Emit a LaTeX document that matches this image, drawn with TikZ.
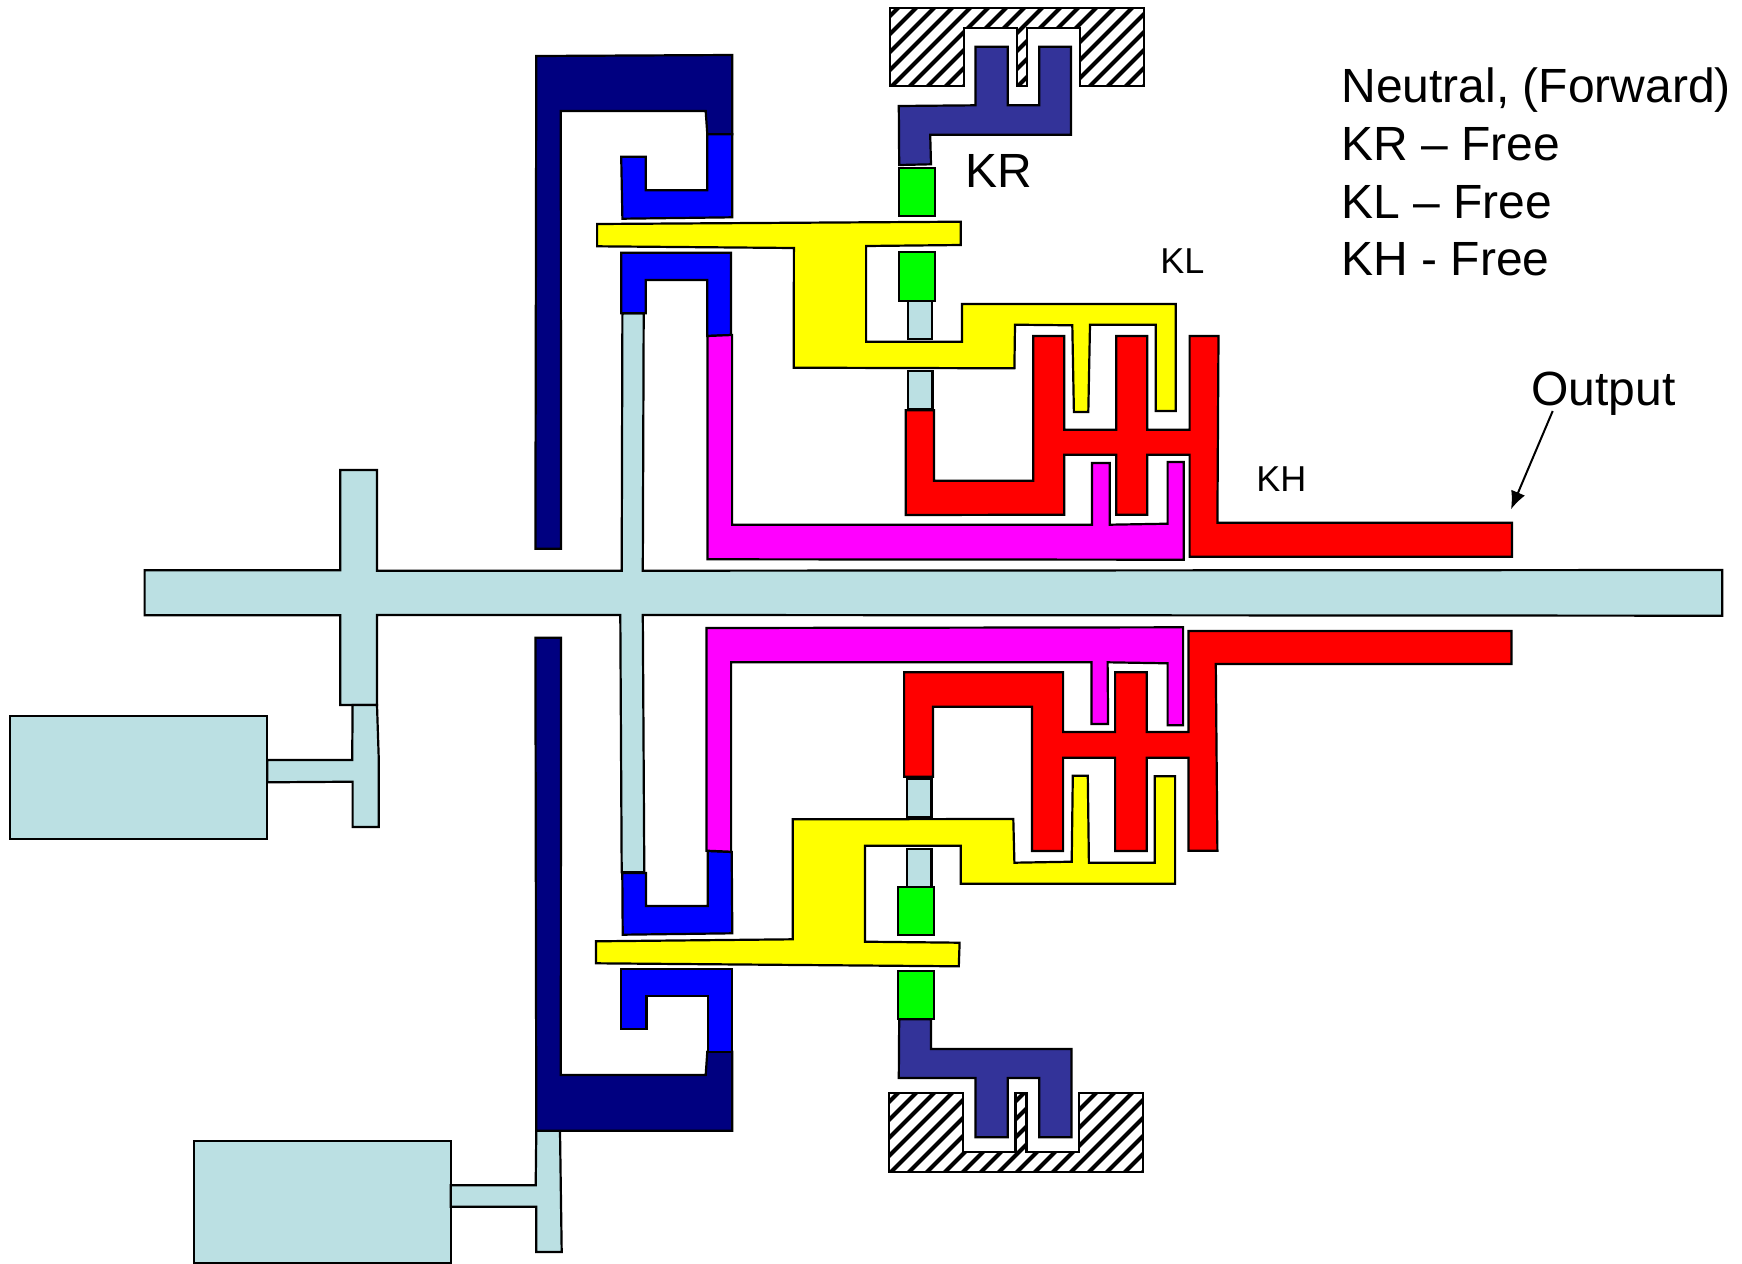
\documentclass[tikz,border=0pt]{standalone}
\usepackage{fontspec}
\setmainfont{Liberation Sans}
\usetikzlibrary{arrows.meta}
\definecolor{pale}{HTML}{BBE0E3}
\definecolor{navyc}{HTML}{000080}
\definecolor{dblue}{HTML}{333399}
\definecolor{bluec}{HTML}{0000FF}
\definecolor{magc}{HTML}{FF00FF}
\definecolor{redc}{HTML}{FF0000}
\definecolor{yelc}{HTML}{FFFF00}
\definecolor{grnc}{HTML}{00FF00}
\tikzset{
  part/.style={draw=black,line width=1.1pt,line join=miter,fill=#1},
  hatchline/.style={draw=black,line width=2pt},
  bigtext/.style={anchor=base west,inner sep=0pt,font=\fontsize{24}{29}\selectfont},
  smalltext/.style={anchor=base west,inner sep=0pt,font=\fontsize{18}{21}\selectfont},
}
\newcommand{\hatchtop}{(889.8,7.7) -- (1143.7,7.7) -- (1143.7,86.3) -- (1080,86.3) -- (1080,28) -- (1027.3,28) -- (1027.3,86.3) -- (1016.7,86.3) -- (1016.7,28) -- (964,28) -- (964,86.3) -- (889.8,86.3) -- cycle}
\newcommand{\hatchbot}{(889,1093.3) -- (963.3,1093.3) -- (963.3,1151.7) -- (1015.5,1151.7) -- (1015.5,1093.3) -- (1026.5,1093.3) -- (1026.5,1151.7) -- (1078.8,1151.7) -- (1078.8,1093.3) -- (1142.9,1093.3) -- (1142.9,1172) -- (889,1172) -- cycle}
\begin{document}
\begin{tikzpicture}[x=0.5pt,y=-0.5pt]
\path[use as bounding box,fill=white] (0,0) rectangle (1742,1264);

% pale shaft with cross arms and rod
\path[part=pale] (144.6,570.3) -- (340.2,570.3) -- (340.2,470) -- (377,470) -- (377,570.7) -- (621.7,570.7) -- (622.4,313.3) -- (643.7,313.3) -- (642.8,570.7) -- (1722.3,570) -- (1722.3,615.7) -- (642.8,615) -- (644.3,872.3) -- (621.7,872.3) -- (620.3,615) -- (377,615) -- (377,705) -- (340.2,705) -- (340.2,615.3) -- (144.6,615.3) -- cycle;
% upper actuator
\path[part=pale] (10.1,716) rectangle (267.2,839);
\path[part=pale] (352.6,705) -- (377,705) -- (378.8,760) -- (378.8,827) -- (352.6,827) -- (352.6,781.7) -- (267.2,782.3) -- (267.2,760) -- (352.2,760) -- cycle;
% lower actuator
\path[part=pale] (193.7,1141.3) rectangle (450.7,1263.3);
\path[part=pale] (450.7,1185.3) -- (535.7,1185.3) -- (536.3,1130.7) -- (560,1130.7) -- (561.7,1252) -- (536.3,1252) -- (536.3,1206.7) -- (450.7,1206.7) -- cycle;
% pale pins
\path[part=pale] (907.8,300.7) rectangle (932.2,339.3);
\path[part=pale] (907.8,370.7) rectangle (932.5,408.7);
\path[part=pale] (907.3,778.7) rectangle (931.4,816.7);
\path[part=pale] (906.8,848.7) rectangle (931.4,886.7);

% navy
\path[part=navyc] (536.3,56) -- (732.2,55) -- (732.2,134.3) -- (707.3,134.3) -- (705.7,111) -- (560.8,111) -- (561,548.7) -- (535.4,548.7) -- cycle;
\path[part=navyc] (535.4,637.7) -- (561,637.7) -- (560.8,1075) -- (705.7,1075) -- (707.3,1051.7) -- (732.2,1051.7) -- (732.2,1130.7) -- (536.3,1130.7) -- cycle;

% blue
\path[part=bluec] (621.2,156.7) -- (645.7,156.7) -- (645.7,190.3) -- (707.3,190.3) -- (707.3,134.3) -- (732.2,134.3) -- (732.2,217.3) -- (622.4,218.7) -- cycle;
\path[part=bluec] (621.2,252.7) -- (731,252.7) -- (731,335) -- (707.3,336) -- (707.3,280) -- (645.7,280) -- (645.7,313.3) -- (621.2,313.3) -- cycle;
\path[part=bluec] (622.3,873) -- (646,873) -- (646,906) -- (707.7,906) -- (707.7,851) -- (731.7,852) -- (732.3,933.3) -- (622.7,934.7) -- cycle;
\path[part=bluec] (621.2,968.7) -- (731.8,968.7) -- (731.8,1051.7) -- (707.8,1051.7) -- (707.8,996.3) -- (646.5,996.3) -- (646.5,1029.3) -- (621.2,1029.3) -- cycle;

% yellow
\path[part=yelc] (597.1,224) -- (960.8,221.7) -- (960.8,245) -- (866.1,246) -- (866.1,341.7) -- (962,341.7) -- (962,304) -- (1175.7,304) -- (1175.7,411) -- (1155.8,411) -- (1155.8,324.7) -- (1090,324.7) -- (1088.3,412) -- (1073.9,412) -- (1072.3,325.3) -- (1015,324.7) -- (1014.4,368.3) -- (793.7,367.7) -- (793.9,248) -- (597.1,246.3) -- cycle;
\path[part=yelc] (792.7,819.3) -- (1013.3,819) -- (1014.4,862.7) -- (1071.7,861.7) -- (1072.8,775.7) -- (1087.8,775.7) -- (1088.9,862.7) -- (1154.7,862.7) -- (1154.7,776.3) -- (1175.1,776.3) -- (1175.1,883.7) -- (960.8,883.7) -- (960.8,845.7) -- (865,845.7) -- (864.9,941.7) -- (959.6,942.7) -- (958.8,966.3) -- (595.9,963.3) -- (595.9,941.3) -- (792.7,939.3) -- cycle;

% magenta
\path[part=magc] (707.5,336) -- (732.1,335) -- (732.1,524.7) -- (1092,524.7) -- (1092,463) -- (1109.8,463) -- (1109.8,524.7) -- (1167.6,523.7) -- (1167.6,462) -- (1183.7,462) -- (1183.7,559.7) -- (707.5,559.3) -- cycle;
\path[part=magc] (706.4,628) -- (1183.1,627.3) -- (1183.1,725.3) -- (1167.6,725.3) -- (1167.6,663.3) -- (1107.6,662.3) -- (1108.1,724) -- (1091.5,724) -- (1091.5,662.3) -- (731.1,662.3) -- (731.1,851.7) -- (706.4,850.7) -- cycle;

% red
\path[part=redc] (905.7,410.3) -- (934,410.3) -- (934,480.7) -- (1033.2,480.7) -- (1033.2,336) -- (1064.2,336) -- (1064.2,429.7) -- (1116.2,429.7) -- (1116.2,336) -- (1147.2,336) -- (1147.2,429.7) -- (1189.6,429.7) -- (1189.6,336) -- (1218.5,336) -- (1217.4,522.7) -- (1512,522.7) -- (1512,556.7) -- (1189.6,556.7) -- (1189.6,454.7) -- (1147.2,454.7) -- (1147.2,514.7) -- (1116.2,514.7) -- (1116.2,454.7) -- (1064.2,454.7) -- (1064.2,514.7) -- (905.7,515) -- cycle;
\path[part=redc] (1188.5,631) -- (1511.5,631) -- (1511.5,664) -- (1215.8,664) -- (1217.4,850.7) -- (1188.5,850.7) -- (1188.5,757.7) -- (1146.7,757.7) -- (1146.7,851) -- (1115.1,851) -- (1115.1,757.7) -- (1063.1,757.7) -- (1063.1,851) -- (1032,851) -- (1032,706.7) -- (933,706.7) -- (933,776.7) -- (904.1,776.7) -- (904.1,672.3) -- (1063.1,672.3) -- (1063.1,732) -- (1115.1,732) -- (1115.1,672.3) -- (1146.7,672.3) -- (1146.7,732) -- (1188.5,732) -- cycle;

% dark blue
\path[part=dblue] (899.2,165) -- (931,164.3) -- (930.2,134.7) -- (1071,134.7) -- (1071,46.7) -- (1039.2,46.7) -- (1039.2,105.3) -- (1007.8,105.3) -- (1007.8,46.7) -- (975.5,46.7) -- (975.5,105.3) -- (898.8,106) -- cycle;
\path[part=dblue] (899.2,1019.3) -- (931,1019.3) -- (931,1049) -- (1071.4,1049) -- (1071.4,1137.3) -- (1039.2,1137.3) -- (1039.2,1078) -- (1007.8,1078) -- (1007.8,1137.3) -- (975.5,1137.3) -- (975.5,1078) -- (898.8,1078) -- cycle;

% green
\path[part=grnc] (898.8,167.7) rectangle (935.1,216);
\path[part=grnc] (898.8,252) rectangle (935.1,300.7);
\path[part=grnc] (898.2,886.7) rectangle (934,935);
\path[part=grnc] (898,971) rectangle (934.3,1019.3);

% hatched housings
\begin{scope}
\clip \hatchtop;
\foreach \i in {0,...,24} \draw[hatchline] ({770+18*\i},100) -- ({870+18*\i},0);
\end{scope}
\draw[line width=1.1pt] \hatchtop;
\begin{scope}
\clip \hatchbot;
\foreach \i in {0,...,24} \draw[hatchline] ({770+18*\i},1185) -- ({870+18*\i},1085);
\end{scope}
\draw[line width=1.1pt] \hatchbot;

% labels
\node[bigtext] (tneutral) at (1341,102.7) {Neutral, (Forward)};
\node[bigtext] (tkr) at (1341,160.7) {KR – Free};
\node[bigtext] (tkl) at (1341,218.3) {KL – Free};
\node[bigtext] (tkh) at (1341,275) {KH - Free};
\node[bigtext] (lkr) at (965.5,187) {KR};
\node[smalltext] (lkl) at (1160,273) {KL};
\node[smalltext] (lkh) at (1256,491) {KH};
\node[bigtext] (loutput) at (1531,405) {Output};

\coordinate (outtail) at (1552.7,411);
\coordinate (outtip) at (1511,509.3);
\draw[line width=1pt,-{Latex[length=9pt,width=7.5pt]}] (outtail) -- (outtip);
\end{tikzpicture}
\end{document}
